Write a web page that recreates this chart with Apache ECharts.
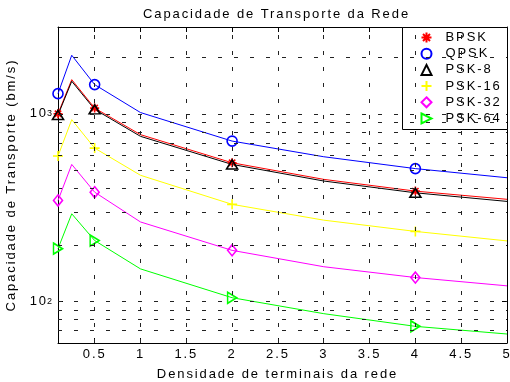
<!DOCTYPE html>
<html><head><meta charset="utf-8">
<script src="https://cdn.jsdelivr.net/npm/echarts@6/dist/echarts.min.js"></script>
<style>html,body{margin:0;padding:0;background:#fff}#c{width:510px;height:382px}</style>
</head><body><div id="c"></div>
<script>
// ---- data ----
const xValues = [0.1, 0.25, 0.5, 1, 2, 3, 4, 5];
const markerX = [0.1, 0.5, 2, 4];
const bpsk  = [1000, 1520, 1072, 774, 548, 447, 387, 350];
const qpsk  = [1280, 2050, 1430, 1015, 715, 590, 510, 456];
const psk8  = [985, 1490, 1055, 758, 537, 438, 379, 341];
const psk16 = [595, 930, 656, 470, 329, 271, 236, 210];
const psk32 = [345, 537, 382, 265, 187, 153, 134, 121];
const psk64 = [191, 293, 211, 149, 104.6, 86, 73.6, 67];
const seriesNames = ['BPSK', 'QPSK', 'PSK-8', 'PSK-16', 'PSK-32', 'PSK-64'];
const xTickLabels = [0.5, 1, 1.5, 2, 2.5, 3, 3.5, 4, 4.5, 5];
const xGridValues = [0.5, 1, 1.5, 2, 2.5, 3, 3.5, 4, 4.5];
const yTickLabels = [100, 1000];
const yGridValues = [70, 80, 90, 100, 200, 300, 400, 500, 600, 700, 800, 900, 1000, 2000];
const titleText = 'Capacidade de Transporte da Rede';
const xAxisTitle = 'Densidade de terminais da rede';
const yAxisTitle = 'Capacidade de Transporte (bm/s)';

// ---- styles ----
const seriesValues = [bpsk, qpsk, psk8, psk16, psk32, psk64];
const colors = ['#ff0000', '#0000ff', '#000000', '#ffff00', '#ff00ff', '#00ff00'];
const symbols = [
  'path://M5 0L5 10M0 5L10 5M1.5 1.5L8.5 8.5M1.5 8.5L8.5 1.5',
  'circle',
  'triangle',
  'path://M5 0L5 10M0 5L10 5',
  'diamond',
  'path://M0 0L10 5L0 10Z'
];
const symbolSizes = [9, 10, [11, 9], 10, [9, 11], [9, 11]];
const FONT = 'Liberation Sans';

(function () {
  const orig = HTMLCanvasElement.prototype.getContext;
  HTMLCanvasElement.prototype.getContext = function (type, opts) {
    const ctx = orig.call(this, type, opts);
    if (type === '2d' && ctx && 'letterSpacing' in ctx) ctx.letterSpacing = '1.9px';
    return ctx;
  };
})();

const chart = echarts.init(document.getElementById('c'), null, {renderer: 'canvas'});

const series = [{
  type: 'line', name: 'grid', data: [], silent: true, z: 1,
  markLine: {
    silent: true, symbol: ['none', 'none'], label: {show: false}, animation: false,
    lineStyle: {color: '#222', width: 1, type: [4, 12]},
    emphasis: {disabled: true},
    data: xGridValues.map(v => ({xAxis: v})).concat(yGridValues.map(v => ({yAxis: v})))
  }
}];
seriesNames.forEach((name, i) => {
  const vals = seriesValues[i];
  series.push({
    type: 'line', name: name + ' ', data: xValues.map((x, k) => [x, vals[k]]),
    showSymbol: false, symbol: 'none', silent: true, z: 2,
    lineStyle: {color: colors[i], width: 1}, itemStyle: {color: colors[i]}
  });
});
seriesNames.forEach((name, i) => {
  const vals = seriesValues[i];
  series.push({
    type: 'scatter', name: name, z: 3, silent: true,
    data: markerX.map(x => [x, vals[xValues.indexOf(x)]]),
    symbol: symbols[i], symbolSize: symbolSizes[i],
    itemStyle: {color: 'none', borderColor: colors[i], borderWidth: 1.6, opacity: 1}
  });
});

const logAxisBase = {type: 'log', logBase: 10, min: 60, max: 2900, splitLine: {show: false}};

chart.setOption({
  animation: false,
  backgroundColor: '#fff',
  textStyle: {fontFamily: FONT},
  title: {
    text: titleText, left: 143, top: 7, padding: 0,
    textStyle: {fontFamily: FONT, fontSize: 13, fontWeight: 'normal', color: '#000'}
  },
  grid: {left: 58, right: 3, top: 27, bottom: 39, containLabel: false, outerBoundsMode: 'none'},
  graphic: [{
    type: 'rect', left: 402, top: 27, z: 3,
    shape: {width: 105, height: 102},
    style: {fill: '#fff', stroke: '#000', lineWidth: 1}
  }],
  legend: {
    data: seriesNames, orient: 'vertical', left: 414, top: 27,
    itemWidth: 10, itemHeight: 10, itemGap: 1.2, padding: [3, 5, 5, 5],
    selectedMode: false,
    textStyle: {fontFamily: FONT, fontSize: 13, color: '#000', lineHeight: 10, padding: [0, 0, 0, 9]}
  },
  xAxis: [{
    type: 'value', min: 0.1, max: 5,
    name: xAxisTitle, nameLocation: 'middle', nameGap: 20,
    nameTextStyle: {fontFamily: FONT, fontSize: 13, color: '#000', padding: [0, 10, 0, 0]},
    axisLine: {show: true, lineStyle: {color: '#000', width: 1}},
    axisTick: {show: true, inside: true, length: 5, customValues: xTickLabels, lineStyle: {color: '#000'}},
    axisLabel: {show: true, margin: 4, customValues: xTickLabels, fontFamily: FONT, fontSize: 13, color: '#000',
      formatter: v => String(v)},
    splitLine: {show: false}
  }, {
    type: 'value', min: 0.1, max: 5, position: 'top',
    axisLine: {show: true, lineStyle: {color: '#000', width: 1}},
    axisTick: {show: true, inside: true, length: 5, customValues: xTickLabels, lineStyle: {color: '#000'}},
    axisLabel: {show: false},
    splitLine: {show: false}
  }],
  yAxis: [Object.assign({}, logAxisBase, {
    name: yAxisTitle, nameLocation: 'middle', nameGap: 34,
    nameTextStyle: {fontFamily: FONT, fontSize: 13, color: '#000'},
    axisLine: {show: true, lineStyle: {color: '#000', width: 1}},
    axisTick: {show: true, inside: true, length: 5, customValues: yTickLabels, lineStyle: {color: '#000'}},
    axisLabel: {
      show: true, margin: 10, customValues: yTickLabels, fontFamily: FONT, fontSize: 13, color: '#000',
      padding: [4, 0, 0, 0], formatter: () => '10'
    }
  }), Object.assign({}, logAxisBase, {
    position: 'right',
    axisLine: {show: true, lineStyle: {color: '#000', width: 1}},
    axisTick: {show: true, inside: true, length: 5, customValues: yTickLabels, lineStyle: {color: '#000'}},
    axisLabel: {show: false}
  }), Object.assign({}, logAxisBase, {
    position: 'left',
    axisLine: {show: false}, axisTick: {show: false},
    axisLabel: {
      show: true, margin: 4, customValues: yTickLabels, fontFamily: FONT, fontSize: 9, color: '#000',
      padding: [0, 0, 17, 0], formatter: v => String(Math.round(Math.log10(v)))
    }
  })],
  series: series
});
</script>
</body></html>
